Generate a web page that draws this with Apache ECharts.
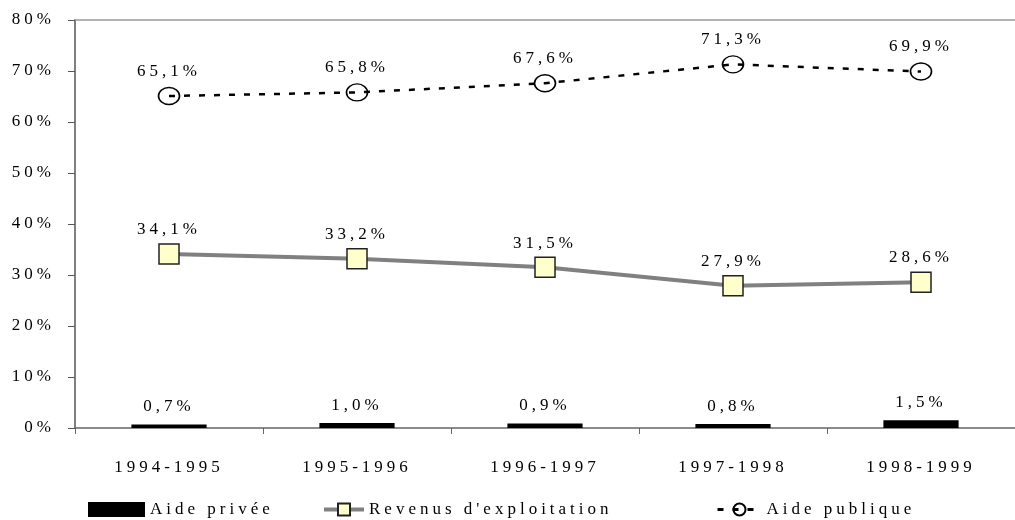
<!DOCTYPE html>
<html>
<head>
<meta charset="utf-8">
<script src="https://cdn.jsdelivr.net/npm/echarts@6/dist/echarts.min.js"></script>
<style>
  html, body { margin: 0; padding: 0; background: #fff; }
  #chart { width: 1015px; height: 520px; }
</style>
</head>
<body>
<div id="chart"></div>
<script>
const categories = ['1994-1995', '1995-1996', '1996-1997', '1997-1998', '1998-1999'];
const aidePrivee = [0.7, 1.0, 0.9, 0.8, 1.5];
const revenusExploitation = [34.1, 33.2, 31.5, 27.9, 28.6];
const aidePublique = [65.1, 65.8, 67.6, 71.3, 69.9];
const yTicks = [0, 10, 20, 30, 40, 50, 60, 70, 80];

const fontFamily = '"Liberation Serif", "Times New Roman", serif';
const fontSize = 17;

// the original print uses widely tracked serif type
const origFillText = CanvasRenderingContext2D.prototype.fillText;
CanvasRenderingContext2D.prototype.fillText = function () {
    this.letterSpacing = '4px';
    return origFillText.apply(this, arguments);
};

function pct(v) {
    return v.toFixed(1).replace('.', ',') + '%';
}

const labelStyle = {
    show: true,
    position: 'top',
    color: '#000',
    fontFamily: fontFamily,
    fontSize: fontSize,
    formatter: function (p) { return pct(p.value); }
};

const legendText = { fontSize: fontSize, fontFamily: fontFamily, color: '#000' };

const chart = echarts.init(document.getElementById('chart'));

chart.setOption({
    animation: false,
    backgroundColor: '#fff',
    textStyle: { fontFamily: fontFamily, color: '#000' },
    grid: { left: 75, top: 20, width: 950, height: 408 },
    legend: [
        {
            data: [{ name: 'Aide privée', icon: 'rect' }],
            left: 88, top: 501, padding: 0,
            itemWidth: 57, itemHeight: 15,
            textStyle: legendText
        },
        {
            data: ["Revenus d'exploitation"],
            left: 322, top: 501, padding: 0,
            itemWidth: 40, itemHeight: 15,
            lineStyle: { width: 4 },
            textStyle: legendText
        },
        {
            data: ['Aide publique'],
            left: 716, top: 501, padding: 0,
            itemWidth: 44, itemHeight: 15,
            lineStyle: { width: 3 },
            textStyle: legendText
        }
    ],
    xAxis: [
        {
            type: 'category',
            data: categories,
            boundaryGap: true,
            axisLine: { lineStyle: { color: '#666', width: 1.5 } },
            axisTick: { show: true, length: 6, lineStyle: { color: '#666' } },
            axisLabel: { color: '#000', fontSize: fontSize, fontFamily: fontFamily, margin: 31 },
            splitLine: { show: false }
        },
        {
            type: 'category',
            data: categories,
            position: 'top',
            axisLine: { show: true, lineStyle: { color: '#999', width: 1.5 } },
            axisTick: { show: false },
            axisLabel: { show: false },
            splitLine: { show: false }
        }
    ],
    yAxis: {
        type: 'value',
        min: 0,
        max: 80,
        interval: 10,
        axisLine: { show: true, lineStyle: { color: '#555', width: 1.5 } },
        axisTick: { show: true, length: 7, lineStyle: { color: '#555' } },
        axisLabel: {
            color: '#000', fontSize: fontSize, fontFamily: fontFamily, margin: 20,
            formatter: function (v) { return yTicks.indexOf(v) >= 0 ? v + '%' : ''; }
        },
        splitLine: { show: false }
    },
    series: [
        {
            name: 'Aide privée',
            type: 'bar',
            data: aidePrivee,
            barWidth: '40%',
            itemStyle: { color: '#000' },
            label: Object.assign({}, labelStyle, { distance: 9 })
        },
        {
            name: "Revenus d'exploitation",
            type: 'line',
            data: revenusExploitation,
            symbol: 'rect',
            symbolSize: 20,
            lineStyle: { color: '#808080', width: 4 },
            itemStyle: { color: '#FFFFCC', borderColor: '#222', borderWidth: 1.5 },
            label: Object.assign({}, labelStyle, { distance: 5 }),
            z: 3
        },
        {
            name: 'Aide publique',
            type: 'line',
            data: aidePublique,
            symbol: 'circle',
            symbolSize: [21, 17],
            lineStyle: { color: '#000', width: 2.5, type: [6, 9] },
            itemStyle: { color: 'rgba(255,255,255,0)', borderColor: '#000', borderWidth: 1.5 },
            label: Object.assign({}, labelStyle, { distance: 7 }),
            z: 3
        }
    ]
});
</script>
</body>
</html>
